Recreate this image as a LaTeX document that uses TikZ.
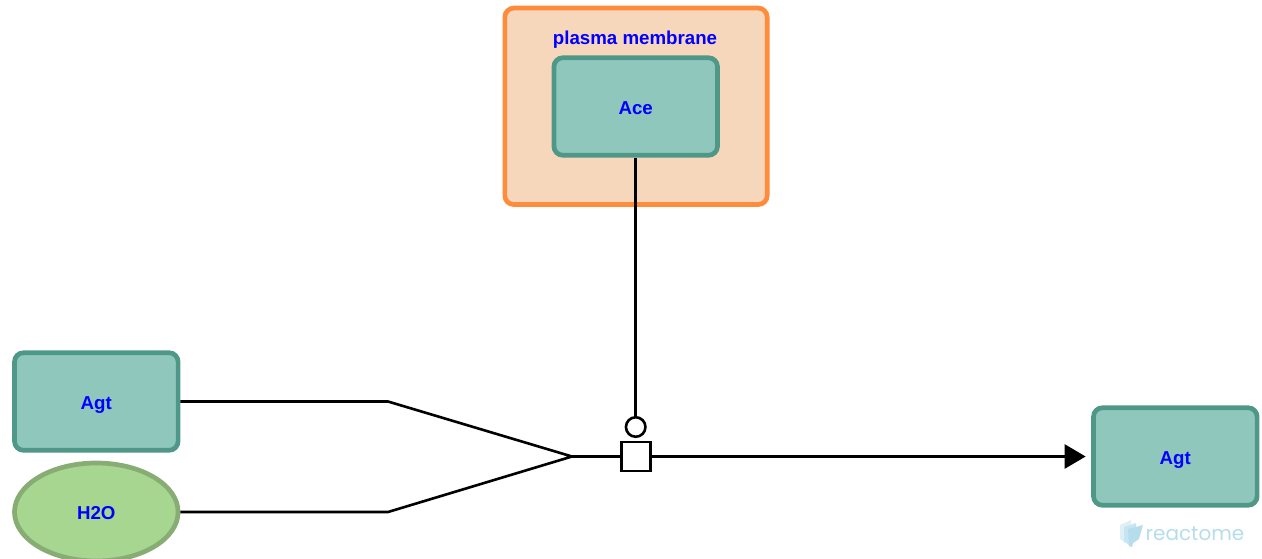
\documentclass[tikz,border=0pt]{standalone}
\usepackage{fontspec}
\setmainfont{Liberation Sans}
\newfontfamily\logofont{Poppins}
\usetikzlibrary{arrows.meta,shapes.geometric}
\definecolor{protfill}{HTML}{8FC7BC}
\definecolor{protline}{HTML}{4F9888}
\definecolor{compfill}{HTML}{F6D7BC}
\definecolor{compline}{HTML}{FF8C3C}
\definecolor{chemfill}{HTML}{A6D690}
\definecolor{chemline}{HTML}{88AD74}
\definecolor{logoc}{HTML}{B5DDEB}
\tikzset{
  x=1pt,y=-1pt,
  lab/.style={text=blue,font=\fontsize{18.7}{20}\selectfont\bfseries,inner sep=0pt,text height=15pt,text depth=0pt},
  prot/.style={draw=protline,fill=protfill,line width=4.7pt,rounded corners=9pt,minimum width=163.6pt,minimum height=97.5pt,lab},
  chem/.style={ellipse,draw=chemline,fill=chemfill,line width=4.7pt,minimum width=163.6pt,minimum height=98pt,lab},
  comp/.style={draw=compline,fill=compfill,line width=4.7pt,rounded corners=9pt,minimum width=262.3pt,minimum height=196.5pt},
  conn/.style={draw=black,line width=2.6pt},
  proc/.style={draw=black,fill=white,line width=2.6pt,minimum width=29pt,minimum height=29pt,inner sep=0pt},
  cat/.style={circle,draw=black,fill=white,line width=2.6pt,minimum size=19.5pt,inner sep=0pt},
}
\begin{document}
\begin{tikzpicture}
\useasboundingbox (0,0) rectangle (1262,558);
\clip (0,0) rectangle (1262,558);
\node[comp] (pm) at (636,106.3) {};
\node[lab] (pmlabel) at (635,37.2) {plasma membrane};
\node[prot] (ace) at (635.7,106.5) {Ace};
\node[prot] (agt1) at (96.3,401.5) {Agt};
\node[chem] (h2o) at (96.3,512) {H2O};
\node[prot] (agt2) at (1175.3,456.5) {Agt};
\node[proc] (sq) at (635.7,456.5) {};
\node[cat] (cc) at (635.7,427) {};
\coordinate (j1) at (388,401.5);
\coordinate (j2) at (388,512);
\coordinate (m) at (572,456.5);
\draw[conn,line join=miter] (agt1.east) -- (j1) -- (m) -- (j2) -- (h2o.east);
\draw[conn] (m) -- (sq.west);
\draw[conn,shorten >=5.5pt,-{Triangle[length=21pt,width=24pt]}] (sq.east) -- (agt2.west);
\draw[conn] (ace.south) -- (cc.north);
\fill[logoc!45] (1120,525) -- (1131,520) -- (1131,540) -- (1125,543) -- (1120,539) -- cycle;
\fill[logoc!75] (1124,527) -- (1136,523) -- (1136,541) -- (1129,545) -- (1124,541) -- cycle;
\fill[logoc] (1128,529) -- (1143,525) -- (1139,539) -- (1133,543) -- (1132,547) -- (1129,546) -- cycle;
\node[text=logoc,font=\logofont\fontsize{20}{22}\selectfont,inner sep=0pt] (logo) at (1195,533.5) {reactome};
\end{tikzpicture}
\end{document}
